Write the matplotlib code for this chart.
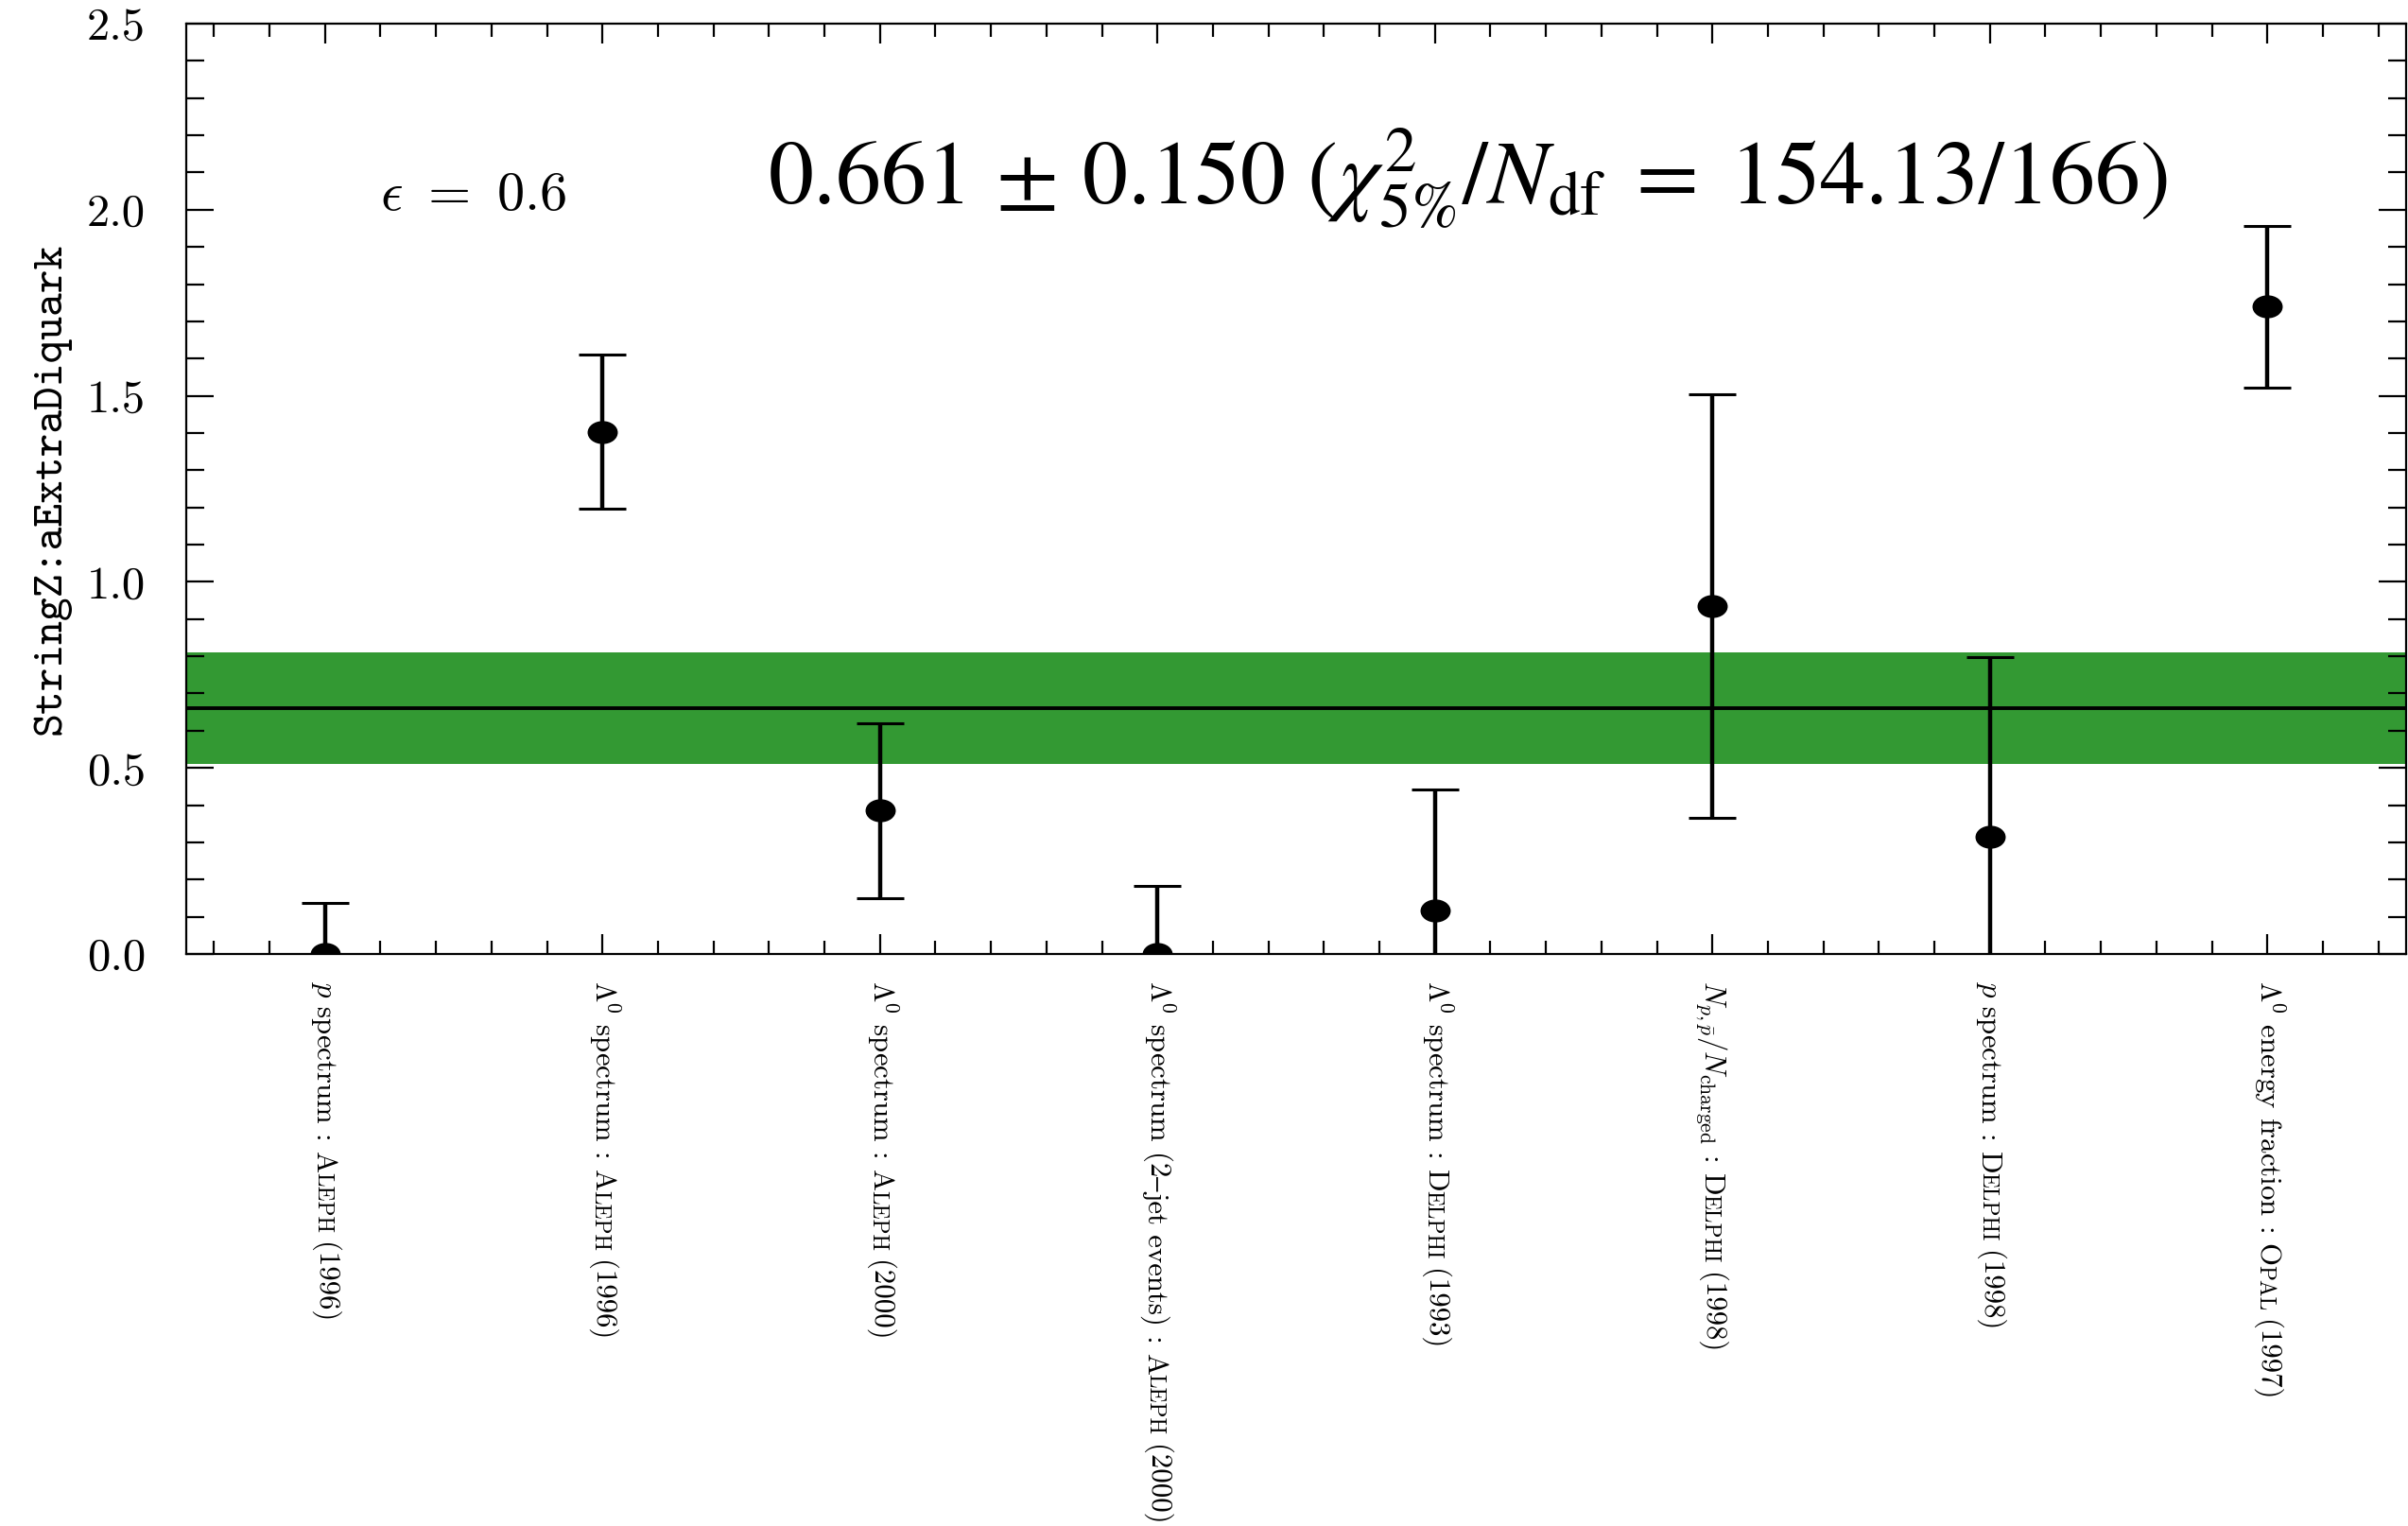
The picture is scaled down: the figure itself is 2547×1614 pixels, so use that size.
import matplotlib
matplotlib.use("Agg")
import matplotlib.pyplot as plt
import numpy as np
from matplotlib.path import Path
from matplotlib.transforms import offset_copy
from matplotlib.ticker import MultipleLocator, FixedLocator, FormatStrFormatter

plt.rcParams['font.family'] = 'cmr10'
plt.rcParams['mathtext.fontset'] = 'cm'
plt.rcParams['axes.formatter.use_mathtext'] = True

# data
x_pos = [0.5, 1.5, 2.5, 3.5, 4.5, 5.5, 6.5, 7.5]
values = [0.0, 1.403, 0.385, 0.0, 0.116, 0.935, 0.314, 1.740]
errors = [0.137, 0.207, 0.235, 0.182, 0.326, 0.568, 0.483, 0.217]
fit_mean = 0.661
fit_err = 0.150
# label pieces: (text, small caps, space before, font family)
label_pieces = [
    [(r"$p$ spectrum : A", False, 0, None), ("LEPH", True, 0, None), ("(1996)", False, 1, None)],
    [(r"$\Lambda^0$ spectrum : A", False, 0, None), ("LEPH", True, 0, None), ("(1996)", False, 1, None)],
    [(r"$\Lambda^0$ spectrum : A", False, 0, None), ("LEPH", True, 0, None), ("(2000)", False, 1, None)],
    [(r"$\Lambda^0$ spectrum (2", False, 0, None), ("–", False, 0, "STIXGeneral"),
     ("jet events) : A", False, 0, None), ("LEPH", True, 0, None), ("(2000)", False, 1, None)],
    [(r"$\Lambda^0$ spectrum : D", False, 0, None), ("ELPHI", True, 0, None), ("(1993)", False, 1, None)],
    [(r"$N_{p,\bar{p}}/N_{\mathrm{charged}}$ : D", False, 0, None), ("ELPHI", True, 0, None), ("(1998)", False, 1, None)],
    [(r"$p$ spectrum : D", False, 0, None), ("ELPHI", True, 0, None), ("(1998)", False, 1, None)],
    [(r"$\Lambda^0$ energy fraction : O", False, 0, None), ("PAL", True, 0, None), ("(1997)", False, 1, None)],
]
y_label = "StringZ:aExtraDiquark"
eps_text = r"$\epsilon\ =\ 0.6$"
fit_text = r"$0.661\,\pm\,0.150\ (\chi^2_{5\%}/N_{\mathrm{df}}\;=\;154.13/166)$"

fig = plt.figure(figsize=(25.47, 16.14), dpi=100)
ax = fig.add_axes([0.07735, 0.37485, 0.92186, 0.60966])

ax.axhspan(fit_mean - fit_err, fit_mean + fit_err, color="#339933", lw=0, zorder=1)
ax.axhline(fit_mean, color="black", lw=2.8, zorder=2)

circ = Path.unit_circle()
ellipse = Path(circ.vertices * np.array([1.0, 0.75]), circ.codes)
ax.errorbar(x_pos, values, yerr=errors, fmt="none", ecolor="black",
            elinewidth=3.2, capsize=18, capthick=2.2, zorder=3)
ax.plot(x_pos, values, ls="none", marker=ellipse, ms=22, color="black", zorder=4)

ax.set_xlim(0, 8)
ax.set_ylim(0, 2.5)
for s in ax.spines.values():
    s.set_linewidth(1.6)

ax.xaxis.set_major_locator(FixedLocator(x_pos))
ax.xaxis.set_minor_locator(FixedLocator(np.arange(0.1, 8, 0.2)))
ax.yaxis.set_major_locator(MultipleLocator(0.5))
ax.yaxis.set_minor_locator(MultipleLocator(0.1))
ax.yaxis.set_major_formatter(FormatStrFormatter("%.1f"))
ax.tick_params(axis="both", which="both", direction="in", width=1.6,
               top=True, right=True)
ax.tick_params(axis="x", which="major", length=15, labelbottom=False)
ax.tick_params(axis="x", which="minor", length=10)
ax.tick_params(axis="y", which="major", length=21, labelsize=35, pad=31)
ax.tick_params(axis="y", which="minor", length=14)

ax.text(-0.061, 0.5, y_label, transform=ax.transAxes, rotation=90,
        ha="center", va="center", fontsize=34, family="cmtt10")

ax.text(0.70, 2.0, eps_text, fontsize=42, ha="left", va="baseline")
ax.text(2.095, 2.015, fit_text, fontsize=69, ha="left", va="baseline",
        math_fontfamily="stix")

# rotated x labels, built piece by piece to fake small caps
lab_size = 22.2
renderer = fig.canvas.get_renderer()
px2pt = 72 / fig.dpi
for xc, pieces in zip(x_pos, label_pieces):
    y_off = -20
    for txt, small, space, family in pieces:
        size = lab_size * (0.76 if small else 1.0)
        y_off -= space * 0.333 * lab_size
        trans = offset_copy(ax.get_xaxis_transform(), fig=fig,
                            x=-0.28 * lab_size, y=y_off, units="points")
        t = ax.text(xc, 0, txt, transform=trans, rotation=-90,
                    rotation_mode="anchor", ha="left", va="baseline",
                    fontsize=size, clip_on=False)
        if family:
            t.set_family(family)
        y_off -= t.get_window_extent(renderer).height * px2pt

fig.savefig("out.png", dpi=100)
